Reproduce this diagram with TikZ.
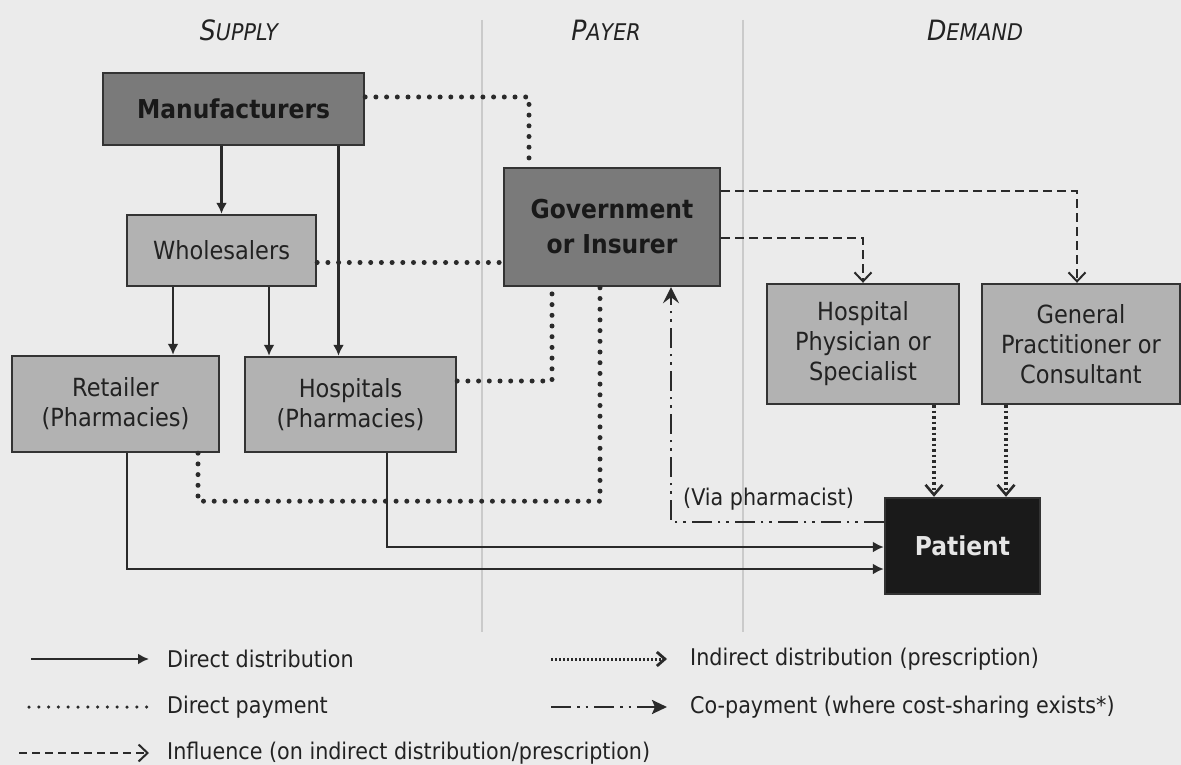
\documentclass[tikz,border=0pt]{standalone}
\usepackage{fontspec}
\setmainfont{DejaVu Sans Condensed}
\usetikzlibrary{arrows.meta}

\definecolor{bgc}{HTML}{EBEBEB}
\definecolor{darkc}{HTML}{7A7A7A}
\definecolor{lightc}{HTML}{B2B2B2}
\definecolor{patc}{HTML}{1A1A1A}
\definecolor{bordc}{HTML}{333333}
\definecolor{txtc}{HTML}{222222}
\definecolor{linec}{HTML}{2A2A2A}
\definecolor{sepc}{HTML}{CACACA}

\tikzset{
  box/.style={draw=bordc, line width=2.4pt, inner sep=0pt, align=center, text=txtc,
    font=\fontsize{25}{30}\selectfont},
  darkbox/.style={box, fill=darkc, text=black!90, font=\bfseries\fontsize{26}{35}\selectfont},
  lightbox/.style={box, fill=lightc},
  patbox/.style={box, fill=patc, text=white!90!black, font=\bfseries\fontsize{26}{30}\selectfont},
  hdr/.style={text=txtc, inner sep=0pt},
  legtext/.style={anchor=west, inner sep=0pt, text=txtc, font=\fontsize{23}{27}\selectfont},
  sepline/.style={draw=sepc, line width=1.2pt},
  % direct distribution
  ddist/.style={draw=linec, line width=2.5pt, -{Latex[length=11pt,width=11pt]}},
  % direct payment
  dpay/.style={draw=linec, line width=5pt, line cap=round, dash pattern=on 0pt off 10.7pt},
  % influence
  infl/.style={draw=linec, line width=2pt, dash pattern=on 9pt off 5pt,
    -{Straight Barb[length=9pt,width=17pt,line width=2pt]}},
  % indirect distribution (prescription)
  indist/.style={draw=linec, line width=4pt, dash pattern=on 2.5pt off 3pt,
    -{Straight Barb[length=10pt,width=17pt,line width=2.6pt]}},
  % co-payment
  copay/.style={draw=linec, line width=2.4pt,
    dash pattern=on 20pt off 6pt on 2.5pt off 6pt on 2.5pt off 6pt,
    -{Stealth[length=16pt,width=16pt,inset=6pt]}},
}

\begin{document}
\begin{tikzpicture}[x=1pt,y=-1pt]
\fill[bgc] (0,0) rectangle (1181,765);
\useasboundingbox (0,0) rectangle (1181,765);

% column separators
\draw[sepline] (482,20) -- (482,632);
\draw[sepline] (743,20) -- (743,632);

% column headings
\node[hdr] (hsupply) at (239,30) {\itshape\fontsize{28}{30}\selectfont S\fontsize{23}{30}\selectfont UPPLY};
\node[hdr] (hpayer) at (606,30) {\itshape\fontsize{28}{30}\selectfont P\fontsize{23}{30}\selectfont AYER};
\node[hdr] (hdemand) at (975,30) {\itshape\fontsize{28}{30}\selectfont D\fontsize{23}{30}\selectfont EMAND};

% actors
\node[darkbox, minimum width=261pt, minimum height=72pt] (man) at (233.5,109) {Manufacturers};
\node[lightbox, minimum width=189pt, minimum height=71pt] (whole) at (221.5,250.5) {Wholesalers};
\node[lightbox, minimum width=207pt, minimum height=96pt] (ret) at (115.5,404) {Retailer\\(Pharmacies)};
\node[lightbox, minimum width=211pt, minimum height=95pt] (hosp) at (350.5,404.5) {Hospitals\\(Pharmacies)};
\node[darkbox, minimum width=216pt, minimum height=118pt] (gov) at (612,227) {Government\\or Insurer};
\node[lightbox, minimum width=192pt, minimum height=120pt] (hp) at (863,344) {Hospital\\Physician or\\Specialist};
\node[lightbox, minimum width=198pt, minimum height=120pt] (gp) at (1081,344) {General\\Practitioner or\\Consultant};
\node[patbox, minimum width=155pt, minimum height=96pt] (pat) at (962.5,546) {Patient};

% direct distribution
\draw[ddist] (whole.north |- man.south) -- (whole.north);
\draw[ddist] ([xshift=-12pt]hosp.north |- man.south) -- ([xshift=-12pt]hosp.north);
\draw[ddist] ([xshift=57.5pt]ret.north |- whole.south) -- ([xshift=57.5pt]ret.north);
\draw[ddist] ([xshift=-81.5pt]hosp.north |- whole.south) -- ([xshift=-81.5pt]hosp.north);
\draw[ddist] ([xshift=11.5pt]ret.south) |- ([yshift=-23pt]pat.west);
\draw[ddist] ([xshift=36.5pt]hosp.south) |- ([yshift=-1pt]pat.west);

% direct payment
\draw[dpay] ([yshift=12pt]man.east) -| ([xshift=-83pt]gov.north);
\draw[dpay] ([yshift=-12pt]whole.east) -- ([yshift=-12pt]whole.east -| gov.west);
\draw[dpay] ([yshift=23.5pt]hosp.east) -| ([xshift=-60pt]gov.south);
\draw[dpay] ([xshift=82.5pt]ret.south) |- ([xshift=-12pt,yshift=-214pt]gov.south) -- ([xshift=-12pt]gov.south);

% influence
\draw[infl] ([yshift=36pt]gov.east) -| ([xshift=-4pt]gp.north);
\draw[infl] ([yshift=-11pt]gov.east) -| (hp.north);

% indirect distribution (prescription)
\draw[indist] ([xshift=-28.5pt]pat.north |- hp.south) -- ([xshift=-28.5pt]pat.north);
\draw[indist] ([xshift=43.5pt]pat.north |- gp.south) -- ([xshift=43.5pt]pat.north);

% co-payment
\draw[copay] ([yshift=24pt]pat.west) -| ([xshift=59pt]gov.south);
\node[legtext] (via) at (683,499) {(Via pharmacist)};

% legend
\coordinate (l1a) at (31,659);  \coordinate (l1b) at (149,659);
\coordinate (l2a) at (29,707);  \coordinate (l2b) at (147,707);
\coordinate (l3a) at (19,753);  \coordinate (l3b) at (149,753);
\coordinate (r1a) at (551,659); \coordinate (r1b) at (667,659);
\coordinate (r2a) at (551,707); \coordinate (r2b) at (667,707);

\draw[ddist] (l1a) -- (l1b);
\node[legtext] (t1) at (167,659) {Direct distribution};
\draw[dpay, line width=3.5pt, dash pattern=on 0pt off 9.8pt] (l2a) -- (l2b);
\node[legtext] (t2) at (167,707) {Direct payment};
\draw[infl, line width=1.6pt, dash pattern=on 8pt off 5pt] (l3a) -- (l3b);
\node[legtext] (t3) at (167,753) {Influence (on indirect distribution/prescription)};
\draw[indist, line width=3pt, dash pattern=on 1.5pt off 2.5pt,
  -{Straight Barb[length=8pt,width=14pt,line width=2.8pt]}] (r1a) -- (r1b);
\node[legtext] (t4) at (690,659) {Indirect distribution (prescription)};
\draw[copay, -{Stealth[length=15pt,width=14pt,inset=3pt]}] (r2a) -- (r2b);
\node[legtext] (t5) at (690,707) {Co-payment (where cost-sharing exists*)};
\end{tikzpicture}
\end{document}
